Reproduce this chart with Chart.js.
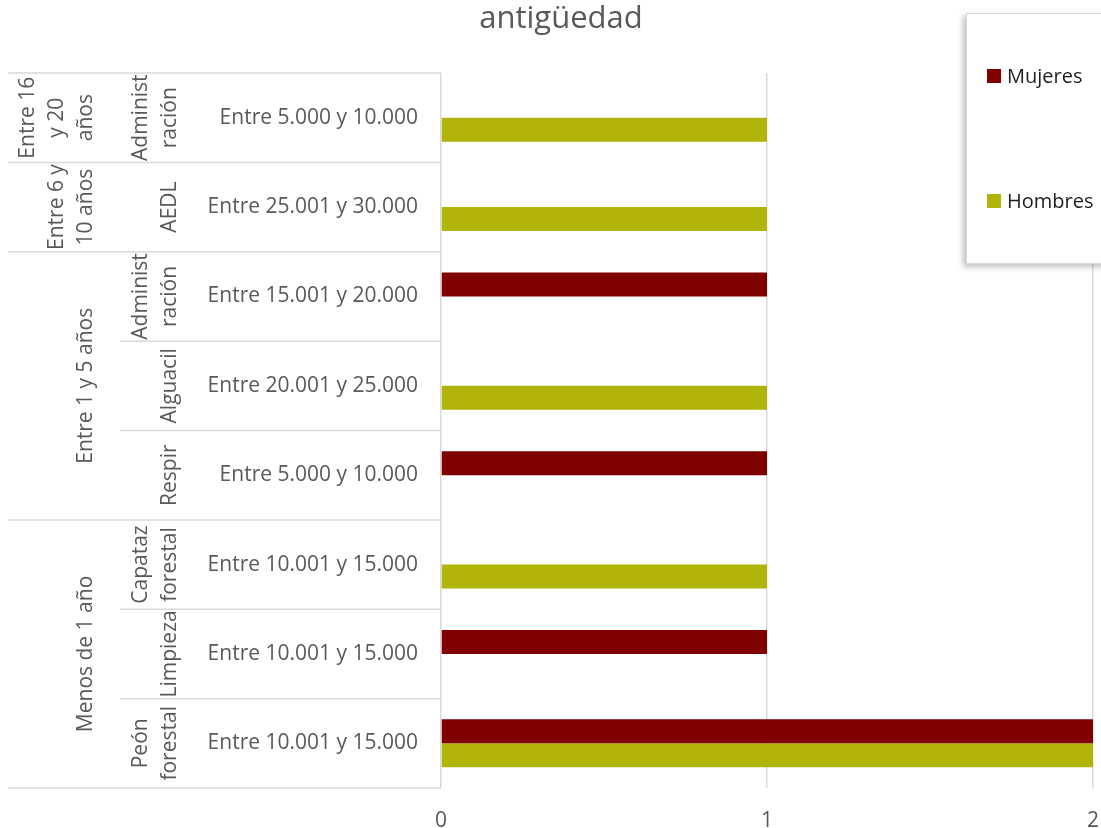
<!DOCTYPE html>
<html lang="es">
<head>
<meta charset="utf-8">
<title>antigüedad</title>
<script src="https://cdn.jsdelivr.net/npm/chart.js@4/dist/chart.umd.min.js"></script>
<style>
  body { margin: 0; background: #fff; font-family: "Open Sans", sans-serif; }
  #wrap { position: relative; width: 1101px; height: 828px; overflow: hidden; }
  #titulo { position: absolute; left: 0; top: 1px; width: 1122px; text-align: center; font-size: 31px; line-height: 31px; color: #595959; }
  #leyenda { position: absolute; left: 966px; top: 13px; width: 160px; height: 249px; background: #fff; border: 1px solid #d9d9d9; box-shadow: -3px 3px 6px rgba(0,0,0,0.25); }
  .item { position: absolute; left: 20px; display: flex; align-items: center; font-size: 20px; line-height: 20px; color: #1f1f1f; }
  .item span.sq { width: 14px; height: 14px; margin-right: 6px; display: inline-block; }
</style>
</head>
<body>
<div id="wrap">
  <canvas id="grafico" width="1101" height="828"></canvas>
  <div id="titulo">antigüedad</div>
  <div id="leyenda"></div>
</div>
<script>
// categorías (de arriba a abajo)
const antiguedad = ['Entre 16 y 20 años', 'Entre 6 y 10 años', 'Entre 1 y 5 años', 'Entre 1 y 5 años', 'Entre 1 y 5 años', 'Menos de 1 año', 'Menos de 1 año', 'Menos de 1 año'];
const puestos = ['Administración', 'AEDL', 'Administración', 'Alguacil', 'Respir', 'Capataz forestal', 'Limpieza', 'Peón forestal'];
const salarios = ['Entre 5.000 y 10.000', 'Entre 25.001 y 30.000', 'Entre 15.001 y 20.000', 'Entre 20.001 y 25.000', 'Entre 5.000 y 10.000', 'Entre 10.001 y 15.000', 'Entre 10.001 y 15.000', 'Entre 10.001 y 15.000'];

// series
const mujeres = [null, null, 1, null, 1, null, 1, 2];
const hombres = [1, 1, null, 1, null, 1, null, 2];

// eje de valores
const xTicks = [0, 1, 2];

// cortes de línea como en el original
const lineasAntiguedad = {
  'Entre 16 y 20 años': ['Entre 16', 'y 20', 'años'],
  'Entre 6 y 10 años': ['Entre 6 y', '10 años'],
  'Entre 1 y 5 años': ['Entre 1 y 5 años'],
  'Menos de 1 año': ['Menos de 1 año']
};
const lineasPuesto = {
  'Administración': ['Administ', 'ración'],
  'Capataz forestal': ['Capataz', 'forestal'],
  'Peón forestal': ['Peón', 'forestal']
};

const colores = { mujeres: '#800000', hombres: '#b2b509' };
const gris = '#595959';
const linea = '#d9d9d9';

// leyenda
const leyenda = document.getElementById('leyenda');
[['Mujeres', colores.mujeres, 52], ['Hombres', colores.hombres, 177]].forEach(([txt, col, top]) => {
  const d = document.createElement('div');
  d.className = 'item';
  d.style.top = top + 'px';
  d.innerHTML = `<span class="sq" style="background:${col}"></span>${txt}`;
  leyenda.appendChild(d);
});

// etiquetas jerárquicas y separadores a la izquierda del eje
const ejeMultinivel = {
  id: 'ejeMultinivel',
  afterDraw(chart) {
    const ctx = chart.ctx;
    const y = chart.scales.y;
    const left = chart.chartArea.left;
    const n = salarios.length;
    const paso = y.getPixelForValue(1) - y.getPixelForValue(0);
    const borde = i => y.getPixelForValue(i) - paso / 2;

    ctx.save();
    ctx.strokeStyle = linea;
    ctx.lineWidth = 1.5;
    for (let i = 0; i <= n; i++) {
      const x0 = (i === 0 || i === n || antiguedad[i] !== antiguedad[i - 1]) ? 8 : 120;
      ctx.beginPath();
      ctx.moveTo(x0, borde(i));
      ctx.lineTo(left, borde(i));
      ctx.stroke();
    }

    ctx.fillStyle = gris;
    ctx.font = '21px "Open Sans"';
    ctx.textAlign = 'center';
    ctx.textBaseline = 'alphabetic';

    const vertical = (lineas, xUltima, yc) => {
      lineas.forEach((t, k) => {
        const x = xUltima - (lineas.length - 1 - k) * 29;
        ctx.save();
        ctx.translate(x, yc);
        ctx.rotate(-Math.PI / 2);
        ctx.fillText(t, 0, 0);
        ctx.restore();
      });
    };

    // nivel 1: antigüedad
    let ini = 0;
    for (let i = 1; i <= n; i++) {
      if (i === n || antiguedad[i] !== antiguedad[ini]) {
        const yc = (borde(ini) + borde(i)) / 2;
        vertical(lineasAntiguedad[antiguedad[ini]] || [antiguedad[ini]], 92, yc);
        ini = i;
      }
    }
    // nivel 2: puesto
    puestos.forEach((p, i) => {
      vertical(lineasPuesto[p] || [p], 176, y.getPixelForValue(i));
    });
    ctx.restore();
  }
};

function dibujar() {
  new Chart(document.getElementById('grafico'), {
    type: 'bar',
    data: {
      labels: salarios,
      datasets: [
        { label: 'Mujeres', data: mujeres, backgroundColor: colores.mujeres },
        { label: 'Hombres', data: hombres, backgroundColor: colores.hombres }
      ]
    },
    options: {
      indexAxis: 'y',
      responsive: false,
      animation: false,
      layout: { padding: { left: 0, right: 8, top: 73, bottom: 0 } },
      datasets: { bar: { categoryPercentage: 0.537, barPercentage: 1, borderWidth: 0 } },
      plugins: {
        legend: { display: false },
        title: { display: false },
        tooltip: { enabled: false }
      },
      scales: {
        x: {
          min: xTicks[0],
          max: xTicks[xTicks.length - 1],
          afterBuildTicks: s => { s.ticks = xTicks.map(v => ({ value: v })); },
          afterFit: s => { s.height = 40; s.paddingLeft = 0; s.paddingRight = 0; },
          grid: { color: linea, lineWidth: 1.5, drawTicks: false },
          border: { display: false },
          ticks: { color: gris, font: { family: 'Open Sans', size: 21 }, padding: 20 }
        },
        y: {
          afterFit: s => { s.width = 441; s.paddingTop = 0; s.paddingBottom = 0; },
          grid: { display: false, drawTicks: false },
          border: { display: false },
          ticks: { color: gris, font: { family: 'Open Sans', size: 21 }, padding: 23, autoSkip: false }
        }
      }
    },
    plugins: [ejeMultinivel]
  });
}

document.fonts.load('21px "Open Sans"').then(dibujar, dibujar);
</script>
</body>
</html>
